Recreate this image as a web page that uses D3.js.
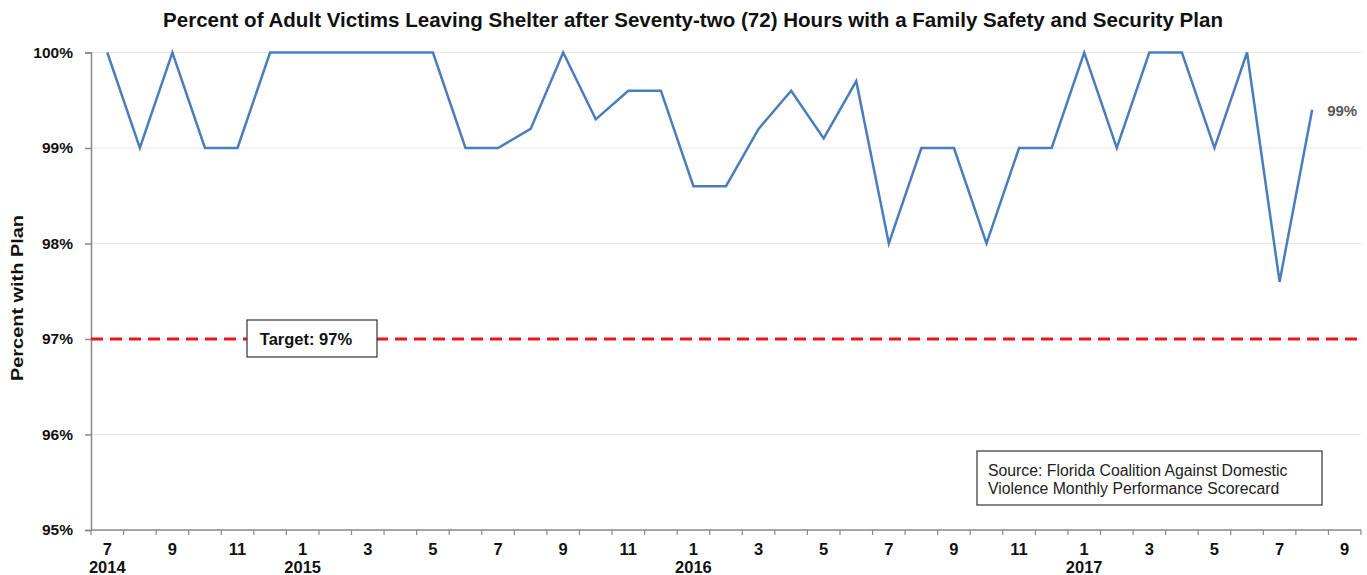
<!DOCTYPE html>
<html><head><meta charset="utf-8">
<script src="https://cdn.jsdelivr.net/npm/d3@7"></script>
<style>body{margin:0;background:#fff}svg text{font-family:"Liberation Sans",Arial,sans-serif}</style>
</head><body>
<svg id="c" width="1367" height="575"></svg>
<script>
const months = ["7","8","9","10","11","12","1","2","3","4","5","6","7","8","9","10","11","12","1","2","3","4","5","6","7","8","9","10","11","12","1","2","3","4","5","6","7","8","9"];
const years = ["2014","2014","2014","2014","2014","2014","2015","2015","2015","2015","2015","2015","2015","2015","2015","2015","2015","2015","2016","2016","2016","2016","2016","2016","2016","2016","2016","2016","2016","2016","2017","2017","2017","2017","2017","2017","2017","2017","2017"];
const values = [100,99,100,99,99,100,100,100,100,100,100,99,99,99.2,100,99.3,99.6,99.6,98.6,98.6,99.2,99.6,99.1,99.7,98.0,99,99,98,99,99,100,99,100,100,99,100,97.6,99.4];
const yTicks = [95,96,97,98,99,100];
const target = 97;
const title = "Percent of Adult Victims Leaving Shelter after Seventy-two (72) Hours with a Family Safety and Security Plan";
const yLabel = "Percent with Plan";
const targetLabel = "Target: 97%";
const sourceLines = ["Source: Florida Coalition Against Domestic", "Violence Monthly  Performance Scorecard"];
const endLabel = "99%";

const keys = months.map((m,i)=>i);
const svg = d3.select("#c");
const L=91, R=1361, T=52.5, B=530;
const x = d3.scaleBand().domain(keys).range([L,R]).padding(0);
const y = d3.scaleLinear().domain([95,100]).range([B,T]);

// gridlines
svg.append("g").selectAll("line").data(yTicks.slice(1)).join("line")
  .attr("x1",L).attr("x2",R).attr("y1",d=>y(d)).attr("y2",d=>y(d))
  .attr("stroke","#e6e6e6").attr("stroke-width",1);

// y axis
const ya = svg.append("g").attr("transform",`translate(${L},0)`)
  .call(d3.axisLeft(y).tickValues(yTicks).tickFormat(d=>d+"%").tickSize(6).tickPadding(12));
ya.select(".domain").attr("stroke","#888").attr("stroke-width",1.5);
ya.selectAll(".tick line").attr("stroke","#888").attr("stroke-width",1.5);
ya.selectAll(".tick text").attr("font-size",15.5).attr("font-weight","bold").attr("fill","#111").attr("font-family","Liberation Sans, Arial, sans-serif");

// x axis
const xa = svg.append("g").attr("transform",`translate(0,${B})`);
xa.append("line").attr("x1",L).attr("x2",R).attr("stroke","#888").attr("stroke-width",1.5);
const bounds = keys.map(k=>x(k)).concat([R]);
xa.selectAll(".tk").data(bounds).join("line").attr("class","tk")
  .attr("x1",d=>d).attr("x2",d=>d).attr("y1",0).attr("y2",5).attr("stroke","#888").attr("stroke-width",1.2);
xa.selectAll(".ml").data(keys.filter(i=>i%2===0)).join("text").attr("class","ml")
  .attr("x",i=>x(i)+x.bandwidth()/2).attr("y",25).attr("text-anchor","middle")
  .attr("font-size",16.5).attr("font-weight","bold").attr("fill","#111").text(i=>months[i]);
xa.selectAll(".yl").data(keys.filter(i=>months[i]==="1" || i===0)).join("text").attr("class","yl")
  .attr("x",i=>x(i)+x.bandwidth()/2).attr("y",43).attr("text-anchor","middle")
  .attr("font-size",16.5).attr("font-weight","bold").attr("fill","#111").text(i=>years[i]);

// target line
svg.append("line").attr("x1",L).attr("x2",R).attr("y1",y(target)).attr("y2",y(target))
  .attr("stroke","#e8151b").attr("stroke-width",3).attr("stroke-dasharray","12,7");
svg.append("rect").attr("x",247).attr("y",320).attr("width",130).attr("height",37)
  .attr("fill","#fff").attr("stroke","#333").attr("stroke-width",1.2);
svg.append("text").attr("x",306).attr("y",345).attr("text-anchor","middle")
  .attr("font-size",16.5).attr("font-weight","bold").attr("fill","#111").text(targetLabel);

// data line
const line = d3.line().x((d,i)=>x(i)+x.bandwidth()/2).y(d=>y(d));
svg.append("path").datum(values).attr("d",line).attr("fill","none")
  .attr("stroke","#4a7ebb").attr("stroke-width",2.5).attr("stroke-linejoin","miter");

// end label
const li = values.length-1;
svg.append("text").attr("x",x(li)+x.bandwidth()/2+15).attr("y",y(values[li])+6)
  .attr("font-size",15).attr("font-weight","bold").attr("fill","#595959").text(endLabel);

// source box
svg.append("rect").attr("x",977).attr("y",451).attr("width",345).attr("height",54)
  .attr("fill","#fff").attr("stroke","#333").attr("stroke-width",1.2);
svg.selectAll(".src").data(sourceLines).join("text").attr("class","src")
  .attr("x",988).attr("y",(d,i)=>476+i*18).attr("font-size",15.8).attr("fill","#222").text(d=>d);

// title
svg.append("text").attr("x",693).attr("y",27).attr("text-anchor","middle")
  .attr("font-size",19.5).attr("font-weight","bold").attr("fill","#111")
  .attr("textLength",1060).attr("lengthAdjust","spacingAndGlyphs").text(title);

// y label
svg.append("text").attr("transform",`translate(23,298) rotate(-90)`).attr("text-anchor","middle")
  .attr("font-size",16).attr("font-weight","bold").attr("fill","#111")
  .attr("textLength",166).attr("lengthAdjust","spacingAndGlyphs").text(yLabel);
</script>
</body></html>
